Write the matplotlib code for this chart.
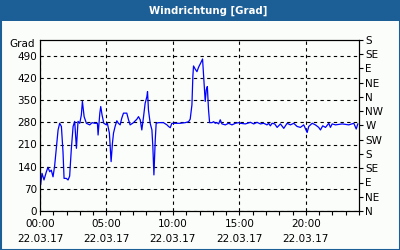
import matplotlib
matplotlib.use('Agg')
import matplotlib.pyplot as plt
from matplotlib.patches import Rectangle

# Messzeitpunkte (Stunden ab 00:00) und Windrichtung in Grad
hours = [0.05, 0.15, 0.30, 0.48, 0.60, 0.73, 0.85, 0.98, 1.10, 1.23, 1.36, 1.48, 1.61,
         1.73, 1.81, 1.98, 2.11, 2.23, 2.36, 2.49, 2.61, 2.74, 2.86, 2.99, 3.11, 3.19,
         3.32, 3.49, 3.74, 3.92, 4.12, 4.32, 4.37, 4.50, 4.57, 4.67, 4.80, 5.00, 5.07,
         5.22, 5.35, 5.45, 5.53, 5.65, 5.78, 5.90, 6.03, 6.15, 6.28, 6.53, 6.66, 6.78,
         7.03, 7.29, 7.41, 7.54, 7.66, 7.79, 7.91, 8.04, 8.09, 8.16, 8.29, 8.42, 8.49,
         8.57, 8.67, 8.74, 8.92, 9.29, 9.55, 9.67, 9.80, 9.92, 10.05, 10.55, 10.93, 11.18,
         11.30, 11.43, 11.50, 11.55, 11.68, 11.81, 11.93, 12.11, 12.23, 12.31, 12.38,
         12.43, 12.51, 12.59, 12.64, 12.68, 12.76, 12.94, 13.06, 13.19, 13.31, 13.44,
         13.56, 13.69, 13.94, 14.19, 14.44, 14.70, 14.94, 15.07, 15.45, 15.83, 16.08,
         16.33, 16.58, 16.83, 17.08, 17.20, 17.33, 17.46, 17.66, 17.84, 18.09, 18.34,
         18.59, 18.84, 19.09, 19.34, 19.59, 19.84, 20.10, 20.22, 20.48, 20.72, 20.97,
         21.10, 21.27, 21.48, 21.73, 21.85, 21.98, 22.23, 22.74, 23.23, 23.61, 23.79, 23.91]
grad = [84, 119, 98, 124, 138, 124, 129, 108, 142, 198, 256, 277, 267,
        187, 103, 103, 98, 110, 198, 267, 283, 198, 283, 277, 303, 346,
        298, 277, 272, 279, 277, 277, 240, 309, 330, 303, 277, 272, 277,
        246, 156, 214, 246, 267, 285, 277, 272, 293, 309, 309, 288, 272,
        279, 290, 298, 288, 256, 298, 340, 361, 377, 319, 277, 256, 203,
        114, 224, 277, 279, 279, 272, 267, 263, 277, 277, 277, 279, 282,
        290, 335, 425, 458, 448, 440, 454, 469, 480, 425, 377,
        346, 383, 393, 351, 319, 279, 279, 282, 277, 279, 275,
        288, 275, 272, 277, 272, 277, 279, 277, 275, 280, 275,
        280, 275, 277, 272, 277, 269, 277, 275, 264, 275, 261,
        277, 272, 277, 267, 264, 272, 248, 267, 277, 272, 264,
        256, 269, 264, 277, 264, 275, 272, 275, 272, 277, 259, 275]

left_ticks = [0, 70, 140, 210, 280, 350, 420, 490]
right_ticks = [0, 45, 90, 135, 180, 225, 270, 315, 360, 405, 450, 495, 540]
right_labels = ['N', 'NE', 'E', 'SE', 'S', 'SW', 'W', 'NW', 'N', 'NE', 'E', 'SE', 'S']
x_major = [0, 5, 10, 15, 20]
x_labels = ['00:00\n22.03.17', '05:00\n22.03.17', '10:00\n22.03.17',
            '15:00\n22.03.17', '20:00\n22.03.17']

bg = '#fbfdfb'
frame = '#1c5f96'
fs = 7.5

fig = plt.figure(figsize=(4, 2.5), dpi=100, facecolor=bg)

# Titelleiste und Rahmen
fig.patches.append(Rectangle((0, 1 - 20.5 / 250), 1, 20.5 / 250, transform=fig.transFigure,
                             facecolor=frame, edgecolor='none', zorder=0))
fig.patches.append(Rectangle((0.5 / 400, 0.5 / 250), 399 / 400, 249 / 250, transform=fig.transFigure,
                             facecolor='none', edgecolor=frame, linewidth=1.5, zorder=0))
fig.text(0.52, 1 - 10.5 / 250, 'Windrichtung [Grad]', color='white', fontsize=7.3,
         fontweight='bold', ha='center', va='center')

ax = fig.add_axes([40 / 400, 39 / 250, 319 / 400, 171 / 250])
ax.set_facecolor(bg)
ax.plot(hours, grad, color='#0000ff', linewidth=0.9)

ax.set_xlim(0, 24)
ax.set_ylim(0, 540)
ax.set_yticks(left_ticks)
ax.tick_params(axis='y', length=0, labelsize=fs, pad=2)
ax.set_xticks(x_major)
ax.set_xticklabels(x_labels, fontsize=fs, linespacing=1.6)
ax.set_xticks(range(0, 25), minor=True)
ax.tick_params(axis='x', which='both', length=3, width=0.8, direction='out', pad=3)
ax.grid(True, which='major', color='black', linestyle=(0, (3, 3)), linewidth=0.8)
for s in ax.spines.values():
    s.set_linewidth(0.8)
ax.text(-0.015, 528, 'Grad', transform=ax.get_yaxis_transform(), ha='right', va='center',
        fontsize=fs)

ax2 = ax.twinx()
ax2.set_ylim(0, 540)
ax2.set_yticks(right_ticks)
ax2.set_yticklabels(right_labels)
ax2.tick_params(axis='y', length=3, width=0.8, labelsize=fs, pad=1.5)

fig.savefig('out.png', dpi=100, facecolor=bg)
